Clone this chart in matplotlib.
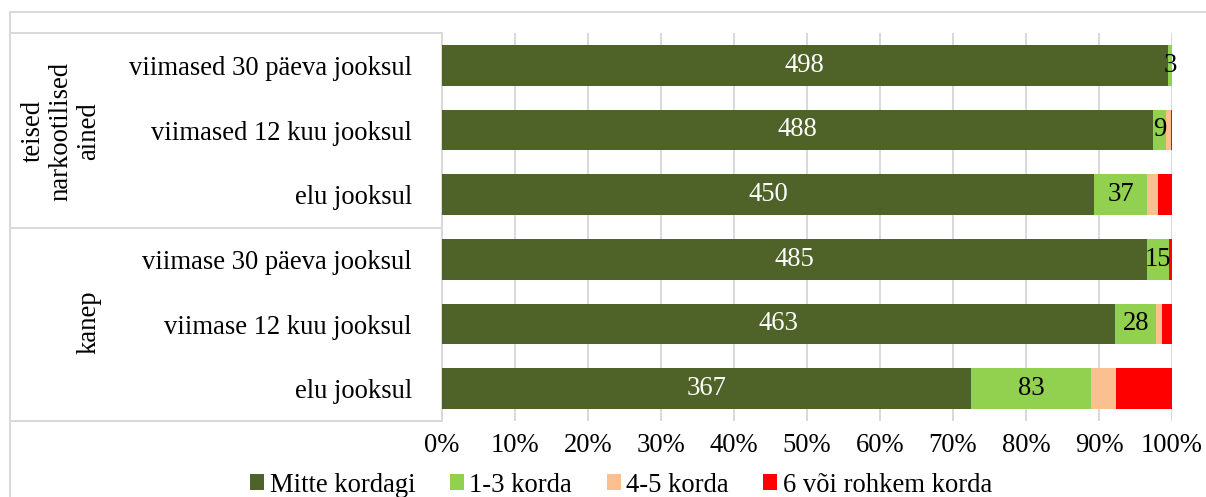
import matplotlib
matplotlib.use("Agg")
import matplotlib.pyplot as plt
from matplotlib.patches import Patch
from matplotlib.lines import Line2D
import numpy as np

plt.rcParams['font.family'] = ['Liberation Serif', 'DejaVu Serif']

# ---- data (top row first) ----
row_labels = ["viimased 30 päeva jooksul", "viimased 12 kuu jooksul", "elu jooksul",
              "viimase 30 päeva jooksul", "viimase 12 kuu jooksul", "elu jooksul"]
group_labels = ["teised\nnarkootilised\nained", "kanep"]
series_names = ["Mitte kordagi", "1-3 korda", "4-5 korda", "6 või rohkem korda"]
mitte_kordagi = [498, 488, 450, 485, 463, 367]
korda_1_3 = [3, 9, 37, 15, 28, 83]
korda_4_5 = [0, 3, 7, 0, 4, 17]
korda_6 = [0, 1, 10, 2, 7, 39]
xtick_labels = ["0%", "10%", "20%", "30%", "40%", "50%", "60%", "70%", "80%", "90%", "100%"]

colors = ["#4F6228", "#92D050", "#FAC090", "#FF0000"]
label_colors = ["white", "black", None, None]

W, H, DPI = 1206, 497, 144
fig = plt.figure(figsize=(W / DPI, H / DPI), dpi=DPI)
fs = 13.3

# plot area in pixels
x0, x1, yt, yb = 442, 1172, 33, 421
ax = fig.add_axes([x0 / W, 1 - yb / H, (x1 - x0) / W, (yb - yt) / H])

series = [np.array(s, dtype=float) for s in (mitte_kordagi, korda_1_3, korda_4_5, korda_6)]
totals = sum(series)
n = len(row_labels)
ypos = np.arange(n)

left = np.zeros(n)
for s, c, lc, name in zip(series, colors, label_colors, series_names):
    frac = s / totals
    ax.barh(ypos, frac, left=left, height=0.63, color=c, label=name, zorder=3)
    if lc is not None:
        for i in range(n):
            if s[i] > 0:
                ax.text(left[i] + frac[i] / 2, ypos[i], f"{int(s[i])}", ha="center",
                        va="center", color=lc, fontsize=fs, zorder=4)
    left = left + frac

ax.set_xlim(0, 1)
ax.set_ylim(n - 0.5, -0.5)
ax.set_xticks(np.linspace(0, 1, 11))
ax.set_xticklabels(xtick_labels, fontsize=fs)
ax.set_yticks(ypos)
ax.set_yticklabels(row_labels, fontsize=fs)
ax.tick_params(axis="both", length=0)
ax.tick_params(axis="y", pad=15)
ax.tick_params(axis="x", pad=6)
ax.grid(axis="x", color="#D9D9D9", linewidth=1.0, zorder=0)
for sp in ["top", "right", "bottom"]:
    ax.spines[sp].set_visible(False)
ax.spines["left"].set_color("#D9D9D9")
ax.spines["left"].set_linewidth(1.0)

# category group separators and chart border
gray = "#D9D9D9"
def hline(y, xa, xb):
    fig.add_artist(Line2D([xa / W, xb / W], [1 - y / H, 1 - y / H], color=gray, lw=1.0))
def vline(x, ya, yb_):
    fig.add_artist(Line2D([x / W, x / W], [1 - ya / H, 1 - yb_ / H], color=gray, lw=1.0))

hline(33, 10, 442)
hline(228, 10, 442)
hline(421, 10, 442)
hline(12, 10, W)
vline(10, 12, H)

# group labels
fig.text(101 / W, 1 - 131 / H, group_labels[0], rotation=90, ha="right", va="center",
         multialignment="center", fontsize=fs, linespacing=1.15)
fig.text(101 / W, 1 - 322 / H, group_labels[1], rotation=90, ha="right", va="center",
         fontsize=fs)

handles = [Patch(facecolor=c, edgecolor="none") for c in colors]
fig.legend(handles, series_names, loc="center", bbox_to_anchor=(621 / W, 1 - 485 / H),
           ncol=4, frameon=False, fontsize=fs, handlelength=0.53, handleheight=0.53,
           handletextpad=0.2, columnspacing=1.3, borderaxespad=0, borderpad=0)

fig.savefig("out.png", dpi=DPI)
